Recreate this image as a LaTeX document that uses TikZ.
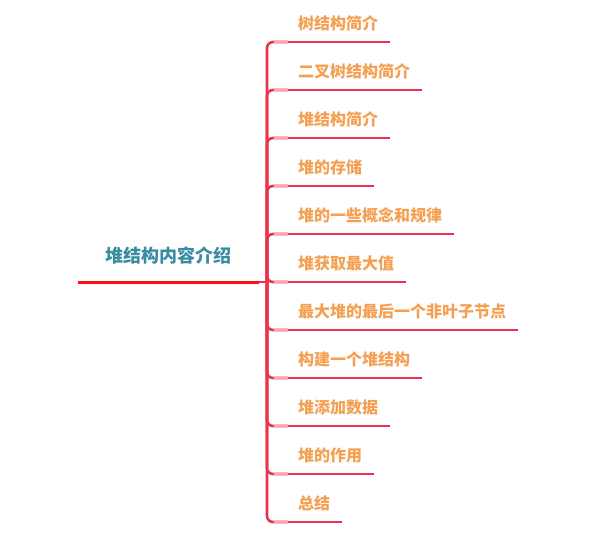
\documentclass[tikz,border=0pt]{standalone}
\usepackage{fontspec}
\usepackage{tikz}
\usetikzlibrary{positioning,calc}
\newfontfamily\cjk{Noto Sans CJK SC}
\definecolor{roottext}{HTML}{3A8CA2}
\definecolor{leaforange}{HTML}{F4A052}
\definecolor{rootred}{HTML}{FF1010}
\definecolor{branchred}{HTML}{E8344E}
\definecolor{branchpink}{HTML}{F6A8B2}

\begin{document}
\begin{tikzpicture}[x=1pt,y=-1pt,
  rootnode/.style={font=\cjk\bfseries\fontsize{18}{18}\selectfont, text=roottext, inner sep=0pt},
  leafnode/.style={font=\cjk\bfseries\fontsize{16}{16}\selectfont, text=leaforange, inner sep=0pt, anchor=west},
  trunkline/.style={branchred, line width=2.6pt, rounded corners=6pt},
  fadeline/.style={branchpink, line width=2.6pt},
  leafline/.style={branchred, line width=2.6pt}]
\useasboundingbox (0,0) rectangle (603,538);
% root and its line
\node[rootnode] (root) at (168,256) {堆结构内容介绍};
\coordinate (rl) at (78,282);
\coordinate (rr) at (259,282);
\draw[rootred, line width=3pt] (rl) -- (rr);
\coordinate (fork) at (267,282);
\draw[trunkline] (rr) -- (fork);
% children
\foreach \txt [count=\i] in {树结构简介, 二叉树结构简介, 堆结构简介, 堆的存储, 堆的一些概念和规律, 堆获取最大值, 最大堆的最后一个非叶子节点, 构建一个堆结构, 堆添加数据, 堆的作用, 总结} {
  \pgfmathsetmacro{\uy}{42+48*(\i-1)}
  \coordinate (u\i) at (288,\uy);
  \node[leafnode] (c\i) at (298,\uy-19) {\txt};
  \draw[trunkline] (fork) |- (u\i);
  \draw[fadeline] (274,\uy) -- (u\i);
  \draw[leafline] (u\i) -- ([xshift=12pt]c\i.east |- u\i);
}
\end{tikzpicture}
\end{document}
